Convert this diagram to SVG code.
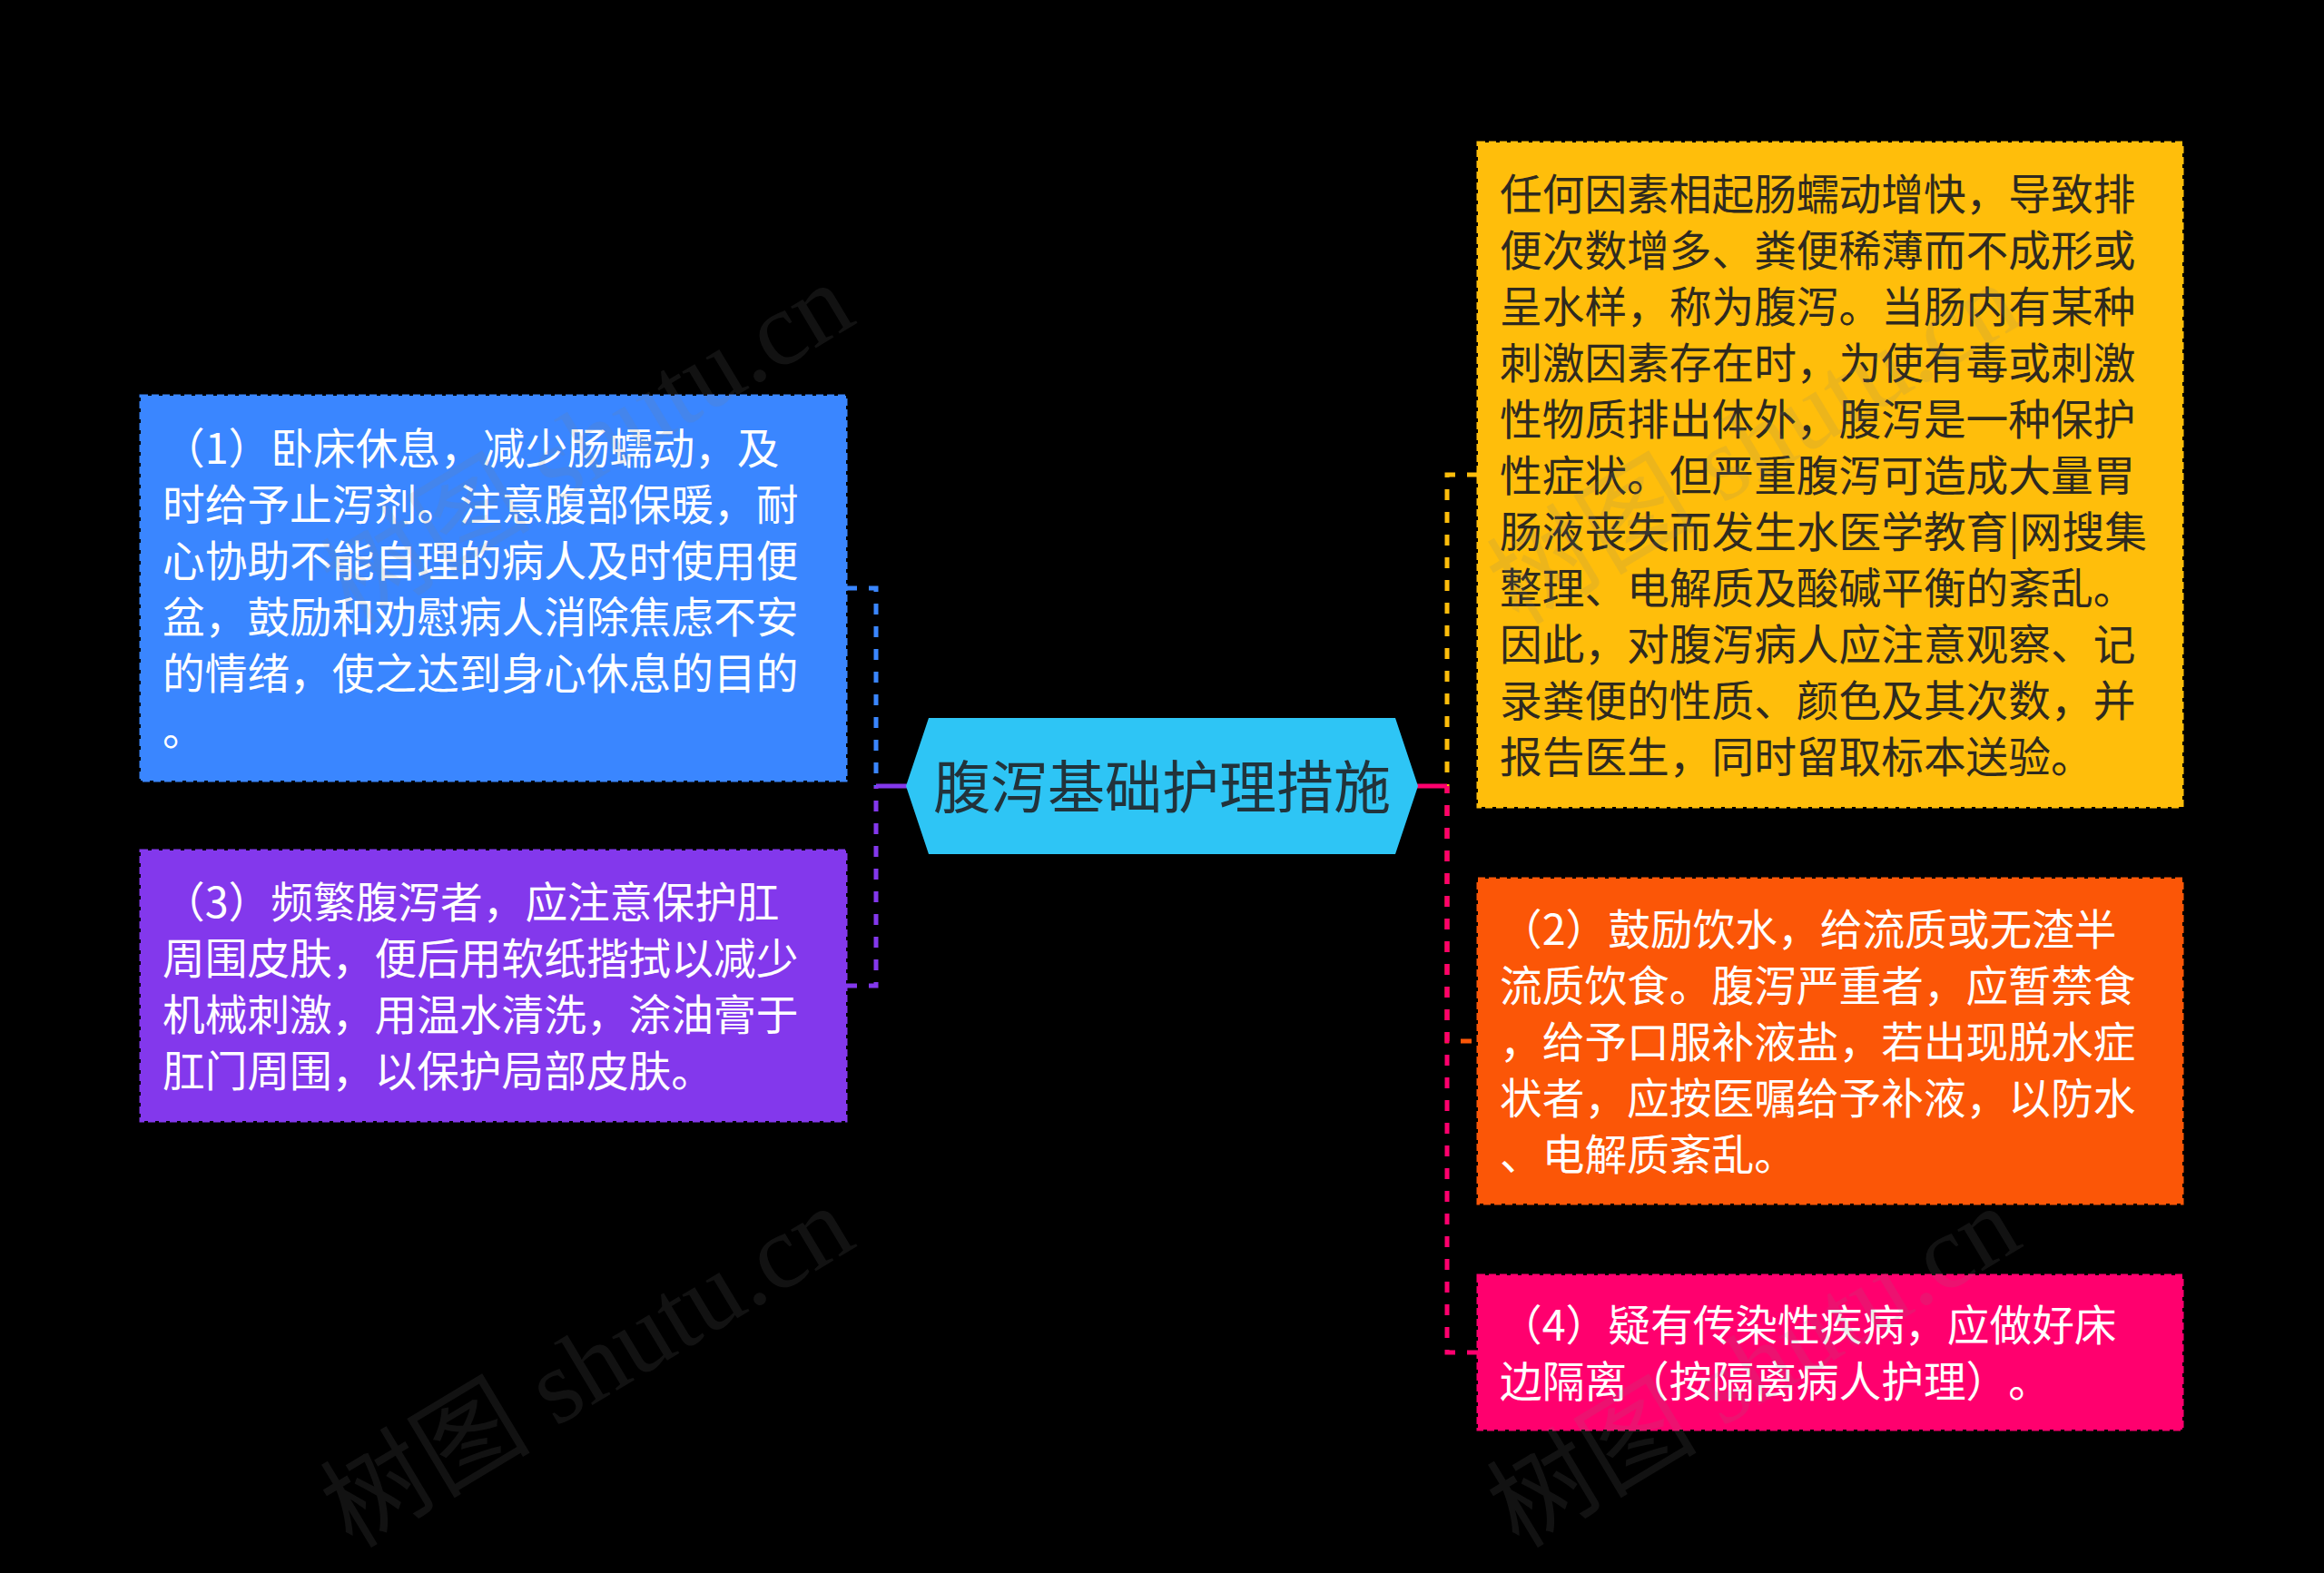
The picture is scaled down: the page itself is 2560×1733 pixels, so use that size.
<svg xmlns="http://www.w3.org/2000/svg" width="2560" height="1733" viewBox="0 0 2560 1733">
<defs>
<style>
.box{stroke-width:3;stroke-dasharray:8 4}
.t{font-family:"Noto Sans CJK SC","Noto Sans",sans-serif;font-size:46.7px;text-spacing-trim:space-all}
.w{fill:#ffffff}
.d{fill:#2f2a1f}
.c{fill:none;stroke-width:5;stroke-dasharray:12 13}
.trunk{fill:none;stroke-width:5}
.wm{font-family:"Liberation Serif","Noto Sans CJK SC",serif;font-size:116px;fill:#808080;opacity:0.14}
</style>
</defs>
<rect x="0" y="0" width="2560" height="1733" fill="#000000"/>

<g id="connectors">
<path class="c" d="M932,648 H965 V866" stroke="#3a86ff"/>
<path class="c" d="M932,1086 H965 V866" stroke="#8338ec"/>
<path class="trunk" d="M965,866 H999" stroke="#8338ec"/>
<path class="c" d="M1628,523 H1594 V866" stroke="#ffbe0b"/>
<path class="c" d="M1628,1147 H1594 V866" stroke="#fb5607" stroke-dashoffset="18"/>
<path class="c" d="M1628,1490 H1594 V866" stroke="#ff006e"/>
<path class="trunk" d="M1561,866 H1594" stroke="#ff006e"/>
</g>

<g id="center">
<polygon points="998,866 1023,791 1537,791 1562,866 1537,941 1023,941" fill="#2ec5f5"/>
<text x="1280" y="890" text-anchor="middle" font-family="&quot;Noto Sans CJK SC&quot;,&quot;Noto Sans&quot;,sans-serif" font-size="63" fill="#22333b">腹泻基础护理措施</text>
</g>

<g id="node1">
<rect class="box" x="155" y="436" width="777" height="424" fill="#3a86ff" stroke="#3a86ff"/>
<text class="t w"><tspan x="179" y="511">（1）卧床休息，减少肠蠕动，及</tspan><tspan x="179" y="573">时给予止泻剂。注意腹部保暖，耐</tspan><tspan x="179" y="635">心协助不能自理的病人及时使用便</tspan><tspan x="179" y="697">盆，鼓励和劝慰病人消除焦虑不安</tspan><tspan x="179" y="759">的情绪，使之达到身心休息的目的</tspan><tspan x="179" y="821">。</tspan></text>
</g>

<g id="node3">
<rect class="box" x="155" y="937" width="777" height="298" fill="#8338ec" stroke="#8338ec"/>
<text class="t w"><tspan x="179" y="1011">（3）频繁腹泻者，应注意保护肛</tspan><tspan x="179" y="1073">周围皮肤，便后用软纸揩拭以减少</tspan><tspan x="179" y="1135">机械刺激，用温水清洗，涂油膏于</tspan><tspan x="179" y="1197">肛门周围，以保护局部皮肤。</tspan></text>
</g>

<g id="node0">
<rect class="box" x="1628" y="157" width="776" height="732" fill="#ffbe0b" stroke="#ffbe0b"/>
<text class="t d"><tspan x="1652" y="231">任何因素相起肠蠕动增快，导致排</tspan><tspan x="1652" y="293">便次数增多、粪便稀薄而不成形或</tspan><tspan x="1652" y="355">呈水样，称为腹泻。当肠内有某种</tspan><tspan x="1652" y="417">刺激因素存在时，为使有毒或刺激</tspan><tspan x="1652" y="479">性物质排出体外，腹泻是一种保护</tspan><tspan x="1652" y="541">性症状。但严重腹泻可造成大量胃</tspan><tspan x="1652" y="603">肠液丧失而发生水医学教育|网搜集</tspan><tspan x="1652" y="665">整理、电解质及酸碱平衡的紊乱。</tspan><tspan x="1652" y="727">因此，对腹泻病人应注意观察、记</tspan><tspan x="1652" y="789">录粪便的性质、颜色及其次数，并</tspan><tspan x="1652" y="851">报告医生，同时留取标本送验。</tspan></text>
</g>

<g id="node2">
<rect class="box" x="1628" y="968" width="776" height="358" fill="#fb5607" stroke="#fb5607"/>
<text class="t w"><tspan x="1652" y="1041">（2）鼓励饮水，给流质或无渣半</tspan><tspan x="1652" y="1103">流质饮食。腹泻严重者，应暂禁食</tspan><tspan x="1652" y="1165">，给予口服补液盐，若出现脱水症</tspan><tspan x="1652" y="1227">状者，应按医嘱给予补液，以防水</tspan><tspan x="1652" y="1289">、电解质紊乱。</tspan></text>
</g>

<g id="node4">
<rect class="box" x="1628" y="1405" width="776" height="170" fill="#ff006e" stroke="#ff006e"/>
<text class="t w"><tspan x="1652" y="1477">（4）疑有传染性疾病，应做好床</tspan><tspan x="1652" y="1539">边隔离（按隔离病人护理）。</tspan></text>
</g>

<g id="watermarks">
<text class="wm" x="388" y="690" transform="rotate(-31 388 690)">树图 shutu.cn</text>
<text class="wm" x="1673" y="690" transform="rotate(-31 1673 690)">树图 shutu.cn</text>
<text class="wm" x="388" y="1707" transform="rotate(-31 388 1707)">树图 shutu.cn</text>
<text class="wm" x="1673" y="1707" transform="rotate(-31 1673 1707)">树图 shutu.cn</text>
</g>
</svg>
